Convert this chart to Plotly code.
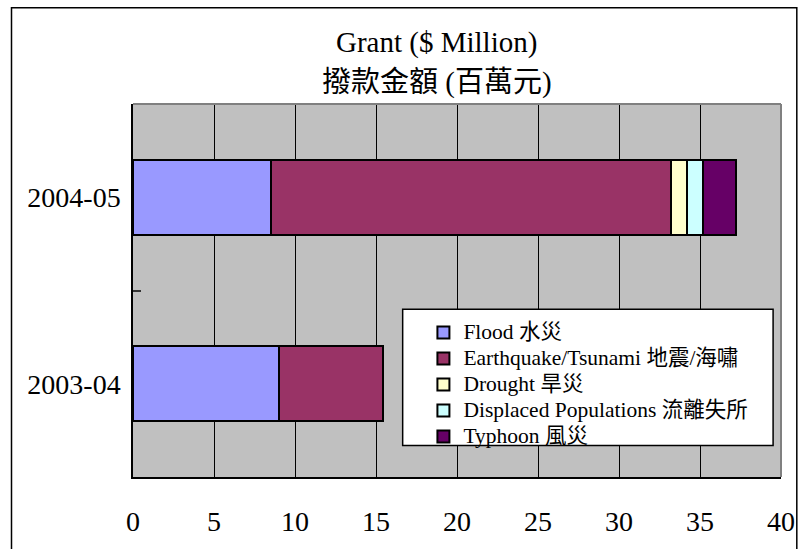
import plotly.graph_objects as go

# ---- data ----
years = ["2003-04", "2004-05"]
flood = [9.0, 8.5]
earthquake = [6.45, 24.7]
drought = [0.0, 0.97]
displaced = [0.0, 1.04]
typhoon = [0.0, 2.0]

series_names = [
    "Flood 水災",
    "Earthquake/Tsunami 地震/海嘯",
    "Drought 旱災",
    "Displaced Populations 流離失所",
    "Typhoon 風災",
]
series_values = [flood, earthquake, drought, displaced, typhoon]
series_colors = ["#9999FF", "#993366", "#FFFFCC", "#CCFFFF", "#660066"]

x_ticks = [0, 5, 10, 15, 20, 25, 30, 35, 40]
title_line1 = "Grant ($ Million)"
title_line2 = "撥款金額 (百萬元)"

FONT = "Liberation Serif, Times New Roman, Noto Sans CJK TC, serif"

W, H = 807, 549
L, R, T, B = 133, 18, 104, 65
PW, PH = W - L - R, H - T - B


def px(x):
    return (x - L) / PW


def py(y):
    return (H - B - y) / PH


fig = go.Figure()
for name, vals, col in zip(series_names, series_values, series_colors):
    fig.add_trace(go.Bar(
        y=years, x=vals, orientation="h",
        name='<span style="font-size:21.5px">' + name + "</span>",
        marker=dict(color=col, line=dict(color="black", width=2)),
    ))

shapes = [
    # outer chart border
    dict(type="rect", xref="paper", yref="paper",
         x0=px(10), x1=px(805), y0=py(600), y1=py(6),
         line=dict(color="black", width=1.5), fillcolor="rgba(0,0,0,0)", layer="above"),
    # plot area top/right border (gray)
    dict(type="line", xref="paper", yref="paper", x0=0, x1=1, y0=1, y1=1,
         line=dict(color="#808080", width=2), layer="above"),
    dict(type="line", xref="paper", yref="paper", x0=1, x1=1, y0=0, y1=1,
         line=dict(color="#808080", width=2), layer="above"),
    # legend box
    dict(type="rect", xref="paper", yref="paper",
         x0=px(406), x1=px(781), y0=py(452), y1=py(313),
         line=dict(color="black", width=1.5), fillcolor="white", layer="above"),
]

annotations = [
    dict(text=title_line1, xref="paper", yref="paper", x=px(440), y=py(41),
         xanchor="center", yanchor="middle", showarrow=False,
         font=dict(family=FONT, size=29, color="black")),
    dict(text=title_line2, xref="paper", yref="paper", x=px(441), y=py(82),
         xanchor="center", yanchor="middle", showarrow=False,
         font=dict(family=FONT, size=29, color="black")),
]

fig.update_layout(
    width=W, height=H, autosize=False,
    margin=dict(l=L, r=R, t=T, b=B, pad=0),
    paper_bgcolor="white", plot_bgcolor="#C0C0C0",
    barmode="stack", bargap=0.6,
    font=dict(family=FONT, color="black"),
    shapes=shapes, annotations=annotations,
    legend=dict(
        x=px(427), y=py(318.5), xanchor="left", yanchor="top",
        bgcolor="rgba(0,0,0,0)", borderwidth=0,
        font=dict(family=FONT, size=17.7, color="black"),
        traceorder="normal", tracegroupgap=0,
    ),
    xaxis=dict(
        range=[0, 40], tickvals=x_ticks, ticktext=[str(v) for v in x_ticks],
        showgrid=True, gridcolor="black", gridwidth=1, zeroline=False,
        showline=True, linecolor="black", linewidth=1.5, ticks="",
        tickfont=dict(family=FONT, size=28, color="black"),
        ticklabelstandoff=19, fixedrange=True,
    ),
    yaxis=dict(
        type="category", categoryorder="array", categoryarray=years,
        range=[-0.5, 1.5], showgrid=False, zeroline=False,
        showline=True, linecolor="black", linewidth=1.5,
        ticks="inside", tickson="boundaries", ticklen=8, tickcolor="#333333", tickwidth=2,
        tickfont=dict(family=FONT, size=28, color="black"),
        ticklabelstandoff=5, fixedrange=True,
    ),
)

fig.write_html(
    "out.html",
    config={"displayModeBar": False},
    post_script="document.body.style.margin='0px';",
)
